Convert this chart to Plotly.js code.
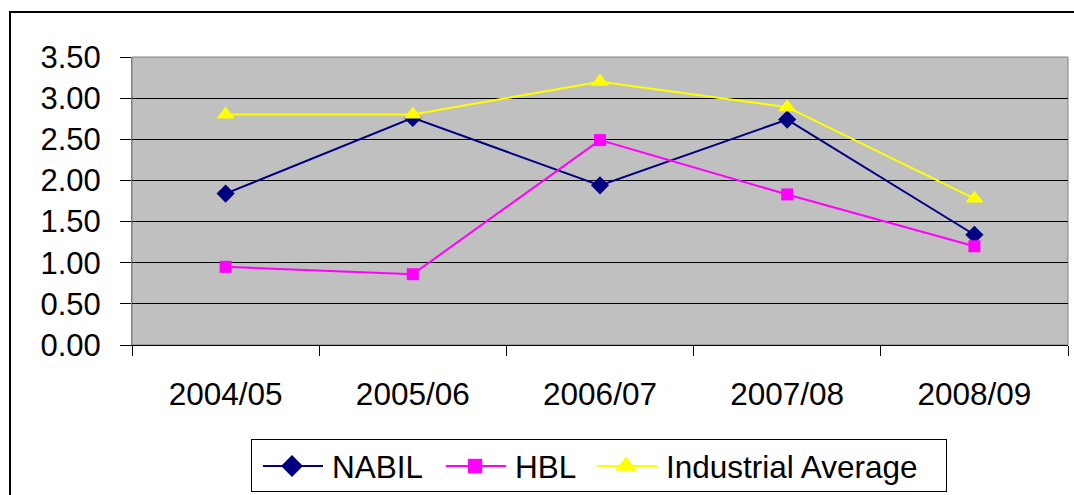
<!DOCTYPE html>
<html>
<head>
<meta charset="utf-8">
<script src="https://cdn.plot.ly/plotly-3.0.1.min.js"></script>
<style>
html,body{margin:0;padding:0;background:#fff;}
#chart{width:1074px;height:495px;}
</style>
</head>
<body>
<div id="chart"></div>
<script>
var categories = ["2004/05", "2005/06", "2006/07", "2007/08", "2008/09"];
var nabil = [1.84, 2.76, 1.94, 2.74, 1.34];
var hbl = [0.95, 0.86, 2.49, 1.83, 1.20];
var industrialAverage = [2.80, 2.80, 3.20, 2.89, 1.78];
var yTickValues = [0, 0.5, 1, 1.5, 2, 2.5, 3, 3.5];

var regular = "'Liberation Sans', Arial, sans-serif";

var traces = [
  {x: categories, y: nabil, name: "NABIL", type: "scatter", mode: "lines+markers",
   line: {color: "#000080", width: 2}, marker: {symbol: "diamond", size: 14, color: "#000080"}},
  {x: categories, y: hbl, name: "HBL", type: "scatter", mode: "lines+markers",
   line: {color: "#FF00FF", width: 2}, marker: {symbol: "square", size: 12, color: "#FF00FF"}},
  {x: categories, y: industrialAverage, name: "Industrial Average", type: "scatter", mode: "lines+markers",
   line: {color: "#FFFF00", width: 2}, marker: {symbol: "triangle-up", size: 16, color: "#FFFF00"}}
];

var L = 132, T = 57, W = 936, H = 288;
function px(x){ return (x - L) / W; }
function py(y){ return (T + H - y) / H; }

var layout = {
  width: 1074, height: 495,
  margin: {l: L, r: 1074 - L - W, t: T, b: 495 - T - H, pad: 0, autoexpand: false},
  paper_bgcolor: "#ffffff",
  plot_bgcolor: "#C0C0C0",
  showlegend: true,
  legend: {
    orientation: "h", x: 0.2, xanchor: "left", y: 0.8, yanchor: "top",
    bordercolor: "#000000", borderwidth: 1, bgcolor: "#ffffff",
    font: {family: regular, size: 31.5, color: "#000"},
    traceorder: "normal", itemwidth: 30
  },
  xaxis: {
    type: "category", tickson: "boundaries", ticks: "outside", ticklen: 10, tickcolor: "#000",
    showline: true, linecolor: "#000", linewidth: 1, showgrid: false, zeroline: false,
    tickfont: {family: regular, size: 31.5, color: "#000"}, ticklabelstandoff: 21,
    range: [-0.5, 4.5]
  },
  yaxis: {
    range: [0, 3.5], tickvals: yTickValues, tickformat: ".2f",
    ticks: "outside", ticklen: 11, tickcolor: "#000",
    showline: true, linecolor: "#808080", linewidth: 1,
    showgrid: true, gridcolor: "#000", gridwidth: 1, zeroline: false,
    tickfont: {family: regular, size: 31, color: "#000"}, ticklabelstandoff: 13
  },
  shapes: [
    {type: "rect", xref: "paper", yref: "paper", x0: 0, x1: 1, y0: 0, y1: 1,
     line: {color: "#808080", width: 1}, layer: "below"},
    {type: "rect", xref: "paper", yref: "paper", x0: px(10), x1: px(1090), y0: py(12), y1: py(510),
     line: {color: "#000", width: 2}, fillcolor: "rgba(0,0,0,0)"}
  ]
};

Plotly.newPlot("chart", traces, layout, {displayModeBar: false, staticPlot: true}).then(function(gd){
  // Excel-style legend below the axis: longer symbol lines, fixed item spacing
  var leg = gd.querySelector("g.legend");
  if (!leg) return;
  leg.setAttribute("transform", "translate(251,439)");
  var bg = leg.querySelector("rect.bg");
  if (bg) { bg.setAttribute("x", 0.5); bg.setAttribute("y", 0.5); bg.setAttribute("width", 695); bg.setAttribute("height", 52); }
  var sb = leg.querySelector("g.scrollbox");
  if (sb) { sb.removeAttribute("clip-path"); sb.setAttribute("transform", "translate(0,0)"); }
  var offs = [12, 195, 346];
  var items = leg.querySelectorAll("g.traces");
  items.forEach(function(it, i){
    it.setAttribute("transform", "translate(" + offs[i] + ",27)");
    it.querySelectorAll("g.legendlines path").forEach(function(p){ p.setAttribute("d", "M0,0h60"); });
    it.querySelectorAll("path.scatterpts").forEach(function(p){
      p.setAttribute("transform", "translate(29,0) scale(1.2)");
    });
    var t = it.querySelector("text.legendtext");
    if (t) {
      t.setAttribute("x", 69);
      t.querySelectorAll("tspan").forEach(function(s){ if (s.hasAttribute("x")) s.setAttribute("x", 69); });
    }
  });
});
</script>
</body>
</html>
